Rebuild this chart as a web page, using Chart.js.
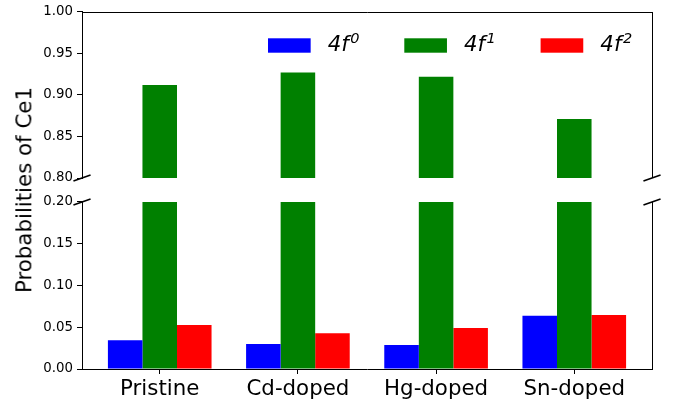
<!DOCTYPE html>
<html>
<head>
<meta charset="utf-8">
<script src="https://cdn.jsdelivr.net/npm/chart.js@4/dist/chart.umd.min.js"></script>
<style>
  html, body { margin: 0; padding: 0; background: #fff; }
  #wrap { position: relative; width: 679px; height: 407px; overflow: hidden; }
  #upper { position: absolute; left: 0; top: 0; width: 679px; height: 190px; }
  #lower { position: absolute; left: 0; top: 190px; width: 679px; height: 217px; }
  #ylabel {
    position: absolute; left: 24.3px; top: 190px;
    transform: translate(-50%, -50%) rotate(-90deg);
    font: 21.33px "DejaVu Sans"; line-height: 1; white-space: nowrap; color: #000;
  }
</style>
</head>
<body>
<div id="wrap">
  <canvas id="upper" width="679" height="190"></canvas>
  <canvas id="lower" width="679" height="217"></canvas>
  <div id="ylabel">Probabilities of Ce1</div>
</div>
<script>
// Ce 4f occupation probabilities per structure
const categories = ['Pristine', 'Cd-doped', 'Hg-doped', 'Sn-doped'];
const seriesLabels = ['4f^0', '4f^1', '4f^2'];
const seriesColors = ['#0000ff', '#008000', '#ff0000'];
const prob4f0 = [0.0345, 0.0298, 0.0286, 0.0638];
const prob4f1 = [0.912, 0.927, 0.922, 0.871];
const prob4f2 = [0.0527, 0.0429, 0.0490, 0.0646];

// broken y axis: upper and lower ranges
const upperTicks = [0.80, 0.85, 0.90, 0.95, 1.00];
const lowerTicks = [0.00, 0.05, 0.10, 0.15, 0.20];

const FONT = 'DejaVu Sans';

function makeDatasets() {
  return [prob4f0, prob4f1, prob4f2].map((vals, i) => ({
    label: seriesLabels[i],
    data: vals.map((v, k) => ({ x: k, y: v })),
    backgroundColor: seriesColors[i],
    borderWidth: 0,
    clip: 0,
    categoryPercentage: 0.75,
    barPercentage: 1.0
  }));
}

// right spine, optional top spine, and the diagonal break marks
const framePlugin = {
  id: 'frame',
  afterDraw(chart, args, o) {
    const { ctx, chartArea: a } = chart;
    const R = Math.round(a.right) + 0.5;
    const T = Math.round(a.top) + 0.5;
    ctx.save();
    ctx.strokeStyle = '#000';
    ctx.lineWidth = 1;
    ctx.beginPath();
    ctx.moveTo(R, a.top);
    ctx.lineTo(R, a.bottom);
    if (o.topSpine) {
      ctx.moveTo(a.left, T);
      ctx.lineTo(R, T);
    }
    ctx.stroke();

    const edgeY = o.breakEdge === 'bottom' ? a.bottom : a.top;
    const dx = 0.015 * (a.right - a.left);
    const dy = 0.015 * (a.bottom - a.top) + 0.5;
    ctx.lineWidth = 1.6;
    ctx.beginPath();
    for (const x of [a.left, a.right]) {
      ctx.moveTo(x - dx, edgeY + dy);
      ctx.lineTo(x + dx, edgeY - dy);
    }
    ctx.stroke();
    ctx.restore();
  }
};

// legend with math-style labels such as 4f^0
const mathLegendPlugin = {
  id: 'mathLegend',
  afterDraw(chart, args, o) {
    if (!o.show) return;
    const { ctx, chartArea: a } = chart;
    const size = 21.33, supSize = 14.5;
    const em = size;
    const handleW = 2 * em, handleH = 14.4, textPad = 0.8 * em;
    const pitch = 136.3;
    const x0 = a.right - 384;
    const cy = a.top + 33.5;
    const baseY = cy + 6;
    ctx.save();
    ctx.textBaseline = 'alphabetic';
    chart.data.datasets.forEach((ds, i) => {
      const bx = x0 + i * pitch;
      ctx.fillStyle = ds.backgroundColor;
      ctx.fillRect(bx, cy - handleH / 2, handleW, handleH);
      const [base, sup] = ds.label.split('^');
      let tx = bx + handleW + textPad;
      ctx.fillStyle = '#000';
      ctx.font = `oblique ${size}px "${FONT}"`;
      ctx.fillText(base, tx, baseY);
      tx += ctx.measureText(base).width + 1.5;
      ctx.font = `oblique ${supSize}px "${FONT}"`;
      ctx.fillText(sup, tx, baseY - 8);
    });
    ctx.restore();
  }
};

function makeChart(canvasId, yTicks, panel) {
  return new Chart(document.getElementById(canvasId), {
    type: 'bar',
    data: { datasets: makeDatasets() },
    options: {
      responsive: false,
      animation: false,
      events: [],
      layout: { padding: panel.padding },
      plugins: {
        legend: { display: false },
        tooltip: { enabled: false },
        frame: { topSpine: panel.topSpine, breakEdge: panel.breakEdge },
        mathLegend: { show: panel.legend }
      },
      scales: {
        x: {
          type: 'linear',
          display: panel.showX,
          offset: false,
          min: -0.5625,
          max: categories.length - 1 + 0.5625,
          afterBuildTicks: s => { s.ticks = categories.map((_, k) => ({ value: k })); },
          afterFit: s => { s.height = panel.xHeight; },
          grid: { offset: false, drawOnChartArea: false, drawTicks: true, tickLength: 5, color: '#000' },
          border: { display: true, color: '#000', width: 1 },
          ticks: {
            callback: v => categories[v],
            font: { family: FONT, size: 21.33 },
            color: '#000',
            padding: 3,
            maxRotation: 0,
            autoSkip: false
          }
        },
        y: {
          min: yTicks[0],
          max: yTicks[yTicks.length - 1],
          afterBuildTicks: s => { s.ticks = yTicks.map(v => ({ value: v })); },
          afterFit: s => { s.width = 82; },
          grid: { drawOnChartArea: false, drawTicks: true, tickLength: 5, color: '#000' },
          border: { display: true, color: '#000', width: 1 },
          ticks: {
            callback: v => Number(v).toFixed(2),
            font: { family: FONT, size: 13.33 },
            color: '#000',
            padding: 4
          }
        }
      }
    },
    plugins: [framePlugin, mathLegendPlugin]
  });
}

makeChart('upper', upperTicks, {
  padding: { left: 0, right: 27, top: 11, bottom: 12 },
  showX: false, xHeight: 0, topSpine: true, breakEdge: 'bottom', legend: true
});

makeChart('lower', lowerTicks, {
  padding: { left: 0, right: 27, top: 11, bottom: 0 },
  showX: true, xHeight: 38, topSpine: false, breakEdge: 'top', legend: false
});
</script>
</body>
</html>
